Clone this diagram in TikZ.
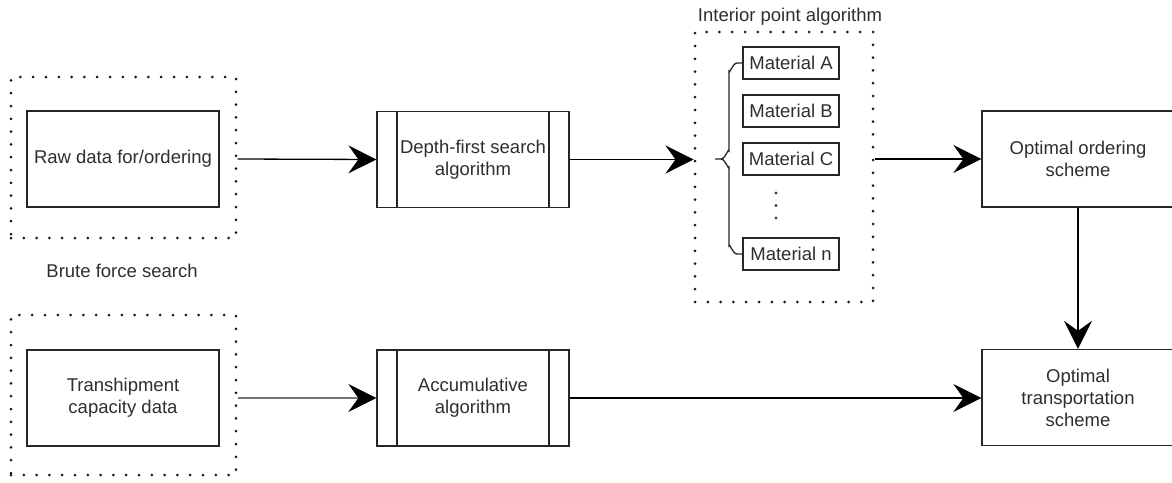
\documentclass[tikz,border=0pt]{standalone}
\usepackage{fontspec}
\setmainfont{Liberation Sans}
\usepackage{tikz}
\usetikzlibrary{
  arrows.meta,
  positioning,
  calc
}

\tikzset{
  txt/.style={font=\fontsize{18.5}{22}\selectfont, text=black!82, align=center, inner sep=0pt},
  plainbox/.style={txt, draw=black!85, line width=1.3pt, minimum width=192pt, minimum height=96pt},
  procbox/.style={plainbox,
    path picture={
      \draw[black!85, line width=1.3pt]
        ([xshift=20pt]path picture bounding box.north west) -- ([xshift=20pt]path picture bounding box.south west)
        ([xshift=-20pt]path picture bounding box.north east) -- ([xshift=-20pt]path picture bounding box.south east);
    }},
  matbox/.style={txt, draw=black!85, line width=1.3pt, minimum width=96pt, minimum height=32pt},
  dotgrp/.style={draw=black!90, line width=3pt, line cap=round, dash pattern=on 0pt off 12.8pt},
  flow/.style={draw=black, line width=1.3pt, -{Stealth[length=28pt, width=28pt, inset=10pt]}}
}

\begin{document}
\begin{tikzpicture}[x=1pt, y=-1pt]
  \useasboundingbox (0,0) rectangle (1172,482);

  % top row
  \node[plainbox] (rawdata) at (123,159) {Raw data for/ordering};
  \node[dotgrp, minimum width=225pt, minimum height=161pt] (brutegrp) at (123.5,157.5) {};
  \node[txt] (brutelbl) at (122,271) {Brute force search};

  \node[procbox] (dfs) at (473,159.5) {Depth-first search\\algorithm};

  \node[dotgrp, minimum width=178pt, minimum height=270pt] (ipgrp) at (784,167) {};
  \node[txt] (iplbl) at (790,17) {Interior point algorithm};
  \foreach \y/\m/\mlbl in {63/mA/{Material A}, 111/mB/{Material B}, 159/mC/{Material C}, 254/mN/{Material n}}{
    \node[matbox] (\m) at (791,\y) {\mlbl};
  }
  \foreach \y in {193,205.5,218}{
    \fill[black!75] (776,\y) circle (1.6pt);
  }
  % brace
  \draw[black!85, line width=1.3pt] (mA.west) -- (737,63) to[out=180, in=-90] (729,71) -- (729,151)
    to[out=90, in=0] (721,159) -- (715,159);
  \draw[black!85, line width=1.3pt] (mN.west) -- (737,254) to[out=180, in=90] (729,246) -- (729,167)
    to[out=-90, in=0] (721,159);

  \node[plainbox] (ordering) at (1078,159) {Optimal ordering\\scheme};

  % bottom row
  \node[plainbox] (tranship) at (123,398) {Transhipment\\capacity data};
  \node[dotgrp, minimum width=225pt, minimum height=160pt] (trangrp) at (123.5,395) {};

  \node[procbox] (accum) at (473,398) {Accumulative\\algorithm};

  \node[plainbox] (transport) at (1078,397.5) {Optimal\\transportation\\scheme};

  % connectors
  \draw[flow] (brutegrp.east |- rawdata.east) -- (dfs.west);
  \draw[flow] (dfs.east) -- (dfs.east -| ipgrp.west);
  \draw[flow] (ipgrp.east |- ordering.west) -- (ordering.west);
  \draw[flow] (ordering.south) -- (transport.north);
  \draw[flow, draw=black!55, -{Stealth[length=28pt, width=28pt, inset=10pt, color=black]}] (trangrp.east |- tranship.east) -- (accum.west);
  \draw[flow] (accum.east) -- (accum.east -| transport.west);
\end{tikzpicture}
\end{document}
